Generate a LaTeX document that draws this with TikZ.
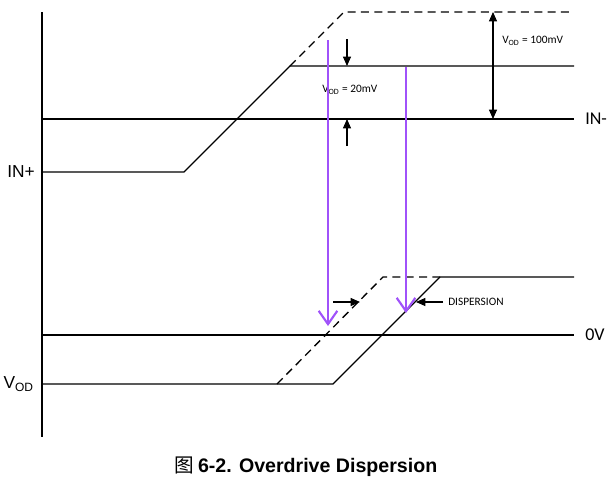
\documentclass[tikz,border=0pt]{standalone}
\usepackage{fontspec}
\setmainfont{Liberation Sans}
\newfontfamily\calfont{Carlito}
\newfontfamily\cjkfont{Noto Sans CJK SC}
\usetikzlibrary{arrows.meta}
\definecolor{violetarrow}{RGB}{160,82,250}
\tikzset{
  thickline/.style={line width=1.6pt,black},
  thinline/.style={line width=1pt,black},
  dashline/.style={line width=1pt,black,dash pattern=on 6pt off 4pt},
  blackarrow/.style={line width=0.8pt,-{Triangle[length=7pt,width=6pt]}},
  purplearrow/.style={line width=1.6pt,violetarrow,-{Straight Barb[length=10pt,width=14pt,line width=1.6pt]}},
  axlabel/.style={font=\fontsize{13}{15}\selectfont,inner sep=0pt},
  callabel/.style={font=\calfont\fontsize{13.5}{15}\selectfont,inner sep=0pt},
  smalllabel/.style={font=\calfont\fontsize{8.5}{10}\selectfont,inner sep=0pt}
}
\begin{document}
\begin{tikzpicture}[x=0.75pt,y=-0.75pt]
\useasboundingbox (0,0) rectangle (615,480);
% key points
\coordinate (axtop) at (42,12);
\coordinate (axbot) at (42,437);
\coordinate (inmL) at (42,119);
\coordinate (inmR) at (574,119);
\coordinate (inpL) at (42,172);
\coordinate (inpK) at (184,172);
\coordinate (inpT) at (290,66);
\coordinate (inpR) at (574,66);
\coordinate (dT) at (344,12);
\coordinate (dR) at (574,12);
\coordinate (zL) at (42,335);
\coordinate (zR) at (574,335);
\coordinate (vL) at (42,384);
\coordinate (vK) at (333,384);
\coordinate (vT) at (440,277);
\coordinate (vR) at (574,277);
\coordinate (vdK) at (277,384);
\coordinate (vdT) at (383,277);
% axis and reference lines
\draw[thickline] (axtop) -- (axbot);
\draw[thickline] (inmL) -- (inmR);
\draw[thickline] (zL) -- (zR);
% input signals
\draw[thinline] (inpL) -- (inpK) -- (inpT) -- (inpR);
\draw[dashline] (inpT) -- (dT) -- (dR);
\draw[thinline] (vL) -- (vK) -- (vT) -- (vR);
\draw[dashline] (vdK) -- (vdT) -- (vT);
% 100mV arrow
\coordinate (a1t) at (493,12);
\coordinate (a1b) at (493,119);
\draw[line width=0.8pt,{Triangle[length=7pt,width=6pt]}-{Triangle[length=7pt,width=6pt]}] (a1t) -- (a1b);
\node[smalllabel,anchor=west] (l100) at (502,41) {V\textsubscript{\fontsize{6}{7}\selectfont OD} = 100mV};
% 20mV arrows
\coordinate (a2s) at (347,39);
\coordinate (a2e) at (347,66);
\coordinate (a3s) at (347,146);
\coordinate (a3e) at (347,119);
\draw[blackarrow] (a2s) -- (a2e);
\draw[blackarrow] (a3s) -- (a3e);
\node[smalllabel,anchor=west] (l20) at (322,90) {V\textsubscript{\fontsize{6}{7}\selectfont OD} = 20mV};
% purple arrows
\coordinate (p1s) at (328,40);
\coordinate (p1e) at (328,326);
\coordinate (p2s) at (406,67);
\coordinate (p2e) at (406,313);
\draw[purplearrow] (p1s) -- (p1e);
\draw[purplearrow] (p2s) -- (p2e);
% dispersion arrows
\coordinate (d1s) at (333,302);
\coordinate (d1e) at (360,302);
\coordinate (d2s) at (443,302);
\coordinate (d2e) at (416,302);
\draw[blackarrow] (d1s) -- (d1e);
\draw[blackarrow] (d2s) -- (d2e);
\node[smalllabel,anchor=west] (ldisp) at (448,302) {DISPERSION};
% labels
\node[axlabel,anchor=east] (linp) at (35,172) {IN+};
\node[callabel,anchor=west] (linm) at (585,119) {IN-};
\node[callabel,anchor=west] (l0v) at (585,335) {0V};
\node[axlabel,anchor=east] (lvod) at (34,384) {V\textsubscript{\fontsize{9}{10}\selectfont OD}};
% caption
\node[inner sep=0pt,anchor=base] (cap) at (306,472) {{\cjkfont\fontsize{14.7}{16}\selectfont 图} \fontsize{14.7}{16}\selectfont\bfseries 6-2. Overdrive Dispersion};
\end{tikzpicture}
\end{document}
